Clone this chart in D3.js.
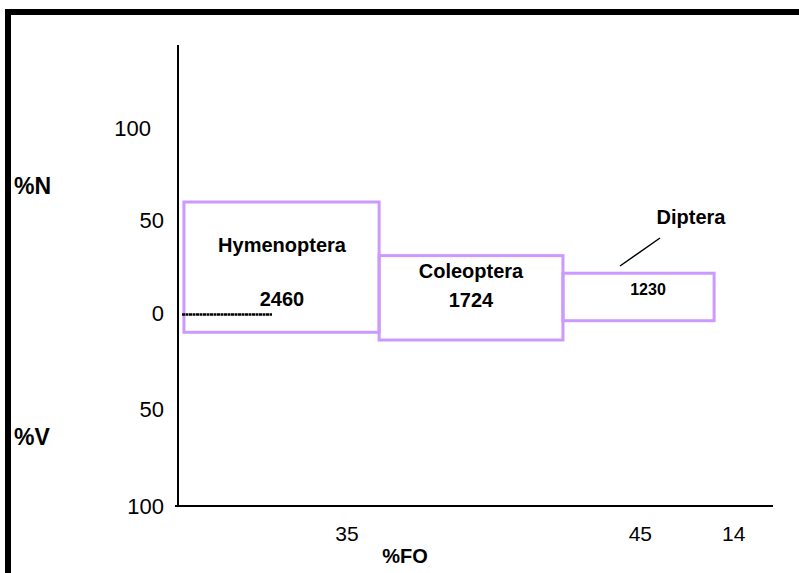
<!DOCTYPE html>
<html><head><meta charset="utf-8">
<script src="https://cdn.jsdelivr.net/npm/d3@7"></script>
<style>body{margin:0;background:#fff}svg{display:block}text{font-family:"Liberation Sans",Arial,sans-serif}</style>
</head><body>
<svg id="c" width="799" height="573"></svg>
<script>
// Data
const categories = ["Hymenoptera", "Coleoptera", "Diptera"];
const counts = ["2460", "1724", "1230"];
const foLabels = ["35", "45", "14"];
const foTickAt = [28.4, 77.7, 93.4];      // where the %FO labels sit along the x axis (axis units)
const boxStart = [1, 33.8, 64.7];          // left edge of each box (axis units)
const boxEnd = [33.8, 64.7, 90.1];         // right edge of each box (axis units)
const pctN = [60, 31, 21.5];               // upper part (%N)
const pctV = [10, 14, 4];                  // lower part (%V)
const yTicks = [100, 50, 0, -50, -100];
const yTickLabels = ["100", "50", "0", "50", "100"];

const svg = d3.select("#c");
// frame
svg.append("rect").attr("x", 8).attr("y", 12).attr("width", 830).attr("height", 620)
  .attr("fill", "none").attr("stroke", "#000").attr("stroke-width", 6);

const x = d3.scaleLinear().domain([0, 100]).range([178, 773]);
const y = d3.scaleLinear().domain([-100, 0, 100]).range([506, 313, 128]);

// axes
svg.append("line").attr("x1", x(0)).attr("x2", x(0)).attr("y1", 45).attr("y2", y(-100))
  .attr("stroke", "#000").attr("stroke-width", 2);
svg.append("line").attr("x1", x(0) - 3).attr("x2", x(100)).attr("y1", y(-100)).attr("y2", y(-100))
  .attr("stroke", "#000").attr("stroke-width", 2);

svg.selectAll("text.yt").data(yTicks).join("text").attr("class", "yt")
  .attr("x", (d, i) => i === 0 ? 151 : 164).attr("y", d => y(d)).attr("dy", "0.35em").attr("text-anchor", "end")
  .attr("font-size", 22).attr("fill", "#000").text((d, i) => yTickLabels[i]);

svg.selectAll("text.xt").data(foLabels).join("text").attr("class", "xt")
  .attr("x", (d, i) => x(foTickAt[i])).attr("y", 534).attr("dy", "0.35em").attr("text-anchor", "middle")
  .attr("font-size", 21).attr("fill", "#000").text(d => d);

svg.append("text").attr("x", 14).attr("y", 186).attr("dy", "0.35em").attr("font-size", 23)
  .attr("font-weight", "bold").text("%N");
svg.append("text").attr("x", 14).attr("y", 437).attr("dy", "0.35em").attr("font-size", 23)
  .attr("font-weight", "bold").text("%V");
svg.append("text").attr("x", 405).attr("y", 556).attr("dy", "0.35em").attr("text-anchor", "middle")
  .attr("font-size", 20).attr("font-weight", "bold").text("%FO");

// boxes
const idx = d3.range(categories.length);
svg.selectAll("rect.box").data(idx).join("rect").attr("class", "box")
  .attr("x", i => x(boxStart[i]))
  .attr("y", i => y(pctN[i]))
  .attr("width", i => x(boxEnd[i]) - x(boxStart[i]))
  .attr("height", i => y(-pctV[i]) - y(pctN[i]))
  .attr("fill", "none").attr("stroke", "#cc99ff").attr("stroke-width", 3);

// zero marker line inside first box
svg.append("line").attr("x1", 182).attr("x2", 272).attr("y1", y(0) + 1.5).attr("y2", y(0) + 1.5)
  .attr("stroke", "#000").attr("stroke-width", 2.5).attr("stroke-dasharray", "3,0.5");

// labels
const nameX = [282, 471, 691], nameY = [245, 271, 217];
const countX = [282, 471, 648], countY = [299, 300, 289];
const countSize = [20, 20, 16];
svg.selectAll("text.nm").data(categories).join("text").attr("class", "nm")
  .attr("x", (d, i) => nameX[i]).attr("y", (d, i) => nameY[i]).attr("dy", "0.35em")
  .attr("text-anchor", "middle").attr("font-size", 20).attr("font-weight", "bold").text(d => d);
svg.selectAll("text.ct").data(counts).join("text").attr("class", "ct")
  .attr("x", (d, i) => countX[i]).attr("y", (d, i) => countY[i]).attr("dy", "0.35em")
  .attr("text-anchor", "middle").attr("font-size", (d, i) => countSize[i]).attr("font-weight", "bold").text(d => d);

// leader line for Diptera
svg.append("line").attr("x1", 660).attr("y1", 238).attr("x2", 620).attr("y2", 266)
  .attr("stroke", "#000").attr("stroke-width", 1.5);
</script>
</body></html>
